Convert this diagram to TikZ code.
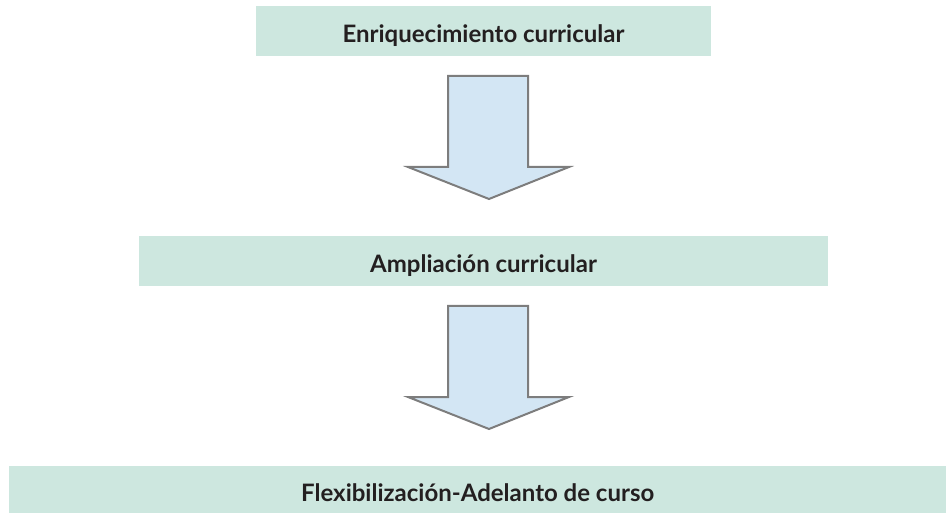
\documentclass[tikz,border=0pt]{standalone}
\usepackage{fontspec}
\setmainfont{Lato}
\definecolor{boxfill}{HTML}{CDE7DF}
\definecolor{arrfill}{HTML}{D3E6F4}
\definecolor{arrline}{HTML}{7D7D7D}
\definecolor{txt}{HTML}{231F20}
\begin{document}
\begin{tikzpicture}[x=1pt,y=-1pt,
  stagebox/.style={fill=boxfill,draw=none,inner sep=0pt,font=\fontsize{24}{28}\selectfont\bfseries,text=txt,text depth=0pt,text height=23pt},
  blockarrow/.style={fill=arrfill,draw=arrline,line width=2pt,line join=miter}]
\useasboundingbox (0,0) rectangle (946,513);
\node[stagebox,minimum width=455pt,minimum height=50pt] (b1) at (483.5,31) {Enriquecimiento curricular};
\node[stagebox,minimum width=689pt,minimum height=50pt] (b2) at (483.5,261) {Ampliación curricular};
\node[stagebox,minimum width=937pt,minimum height=47pt,anchor=north west] (b3) at (9,466) {Flexibilización-Adelanto de curso};
\draw[blockarrow] (448,76) -- (528,76) -- (528,167) -- (569,167) -- (489,199) -- (408,167) -- (448,167) -- cycle;
\draw[blockarrow] (448,306) -- (528,306) -- (528,397) -- (569,397) -- (489,429) -- (408,397) -- (448,397) -- cycle;
\end{tikzpicture}
\end{document}
